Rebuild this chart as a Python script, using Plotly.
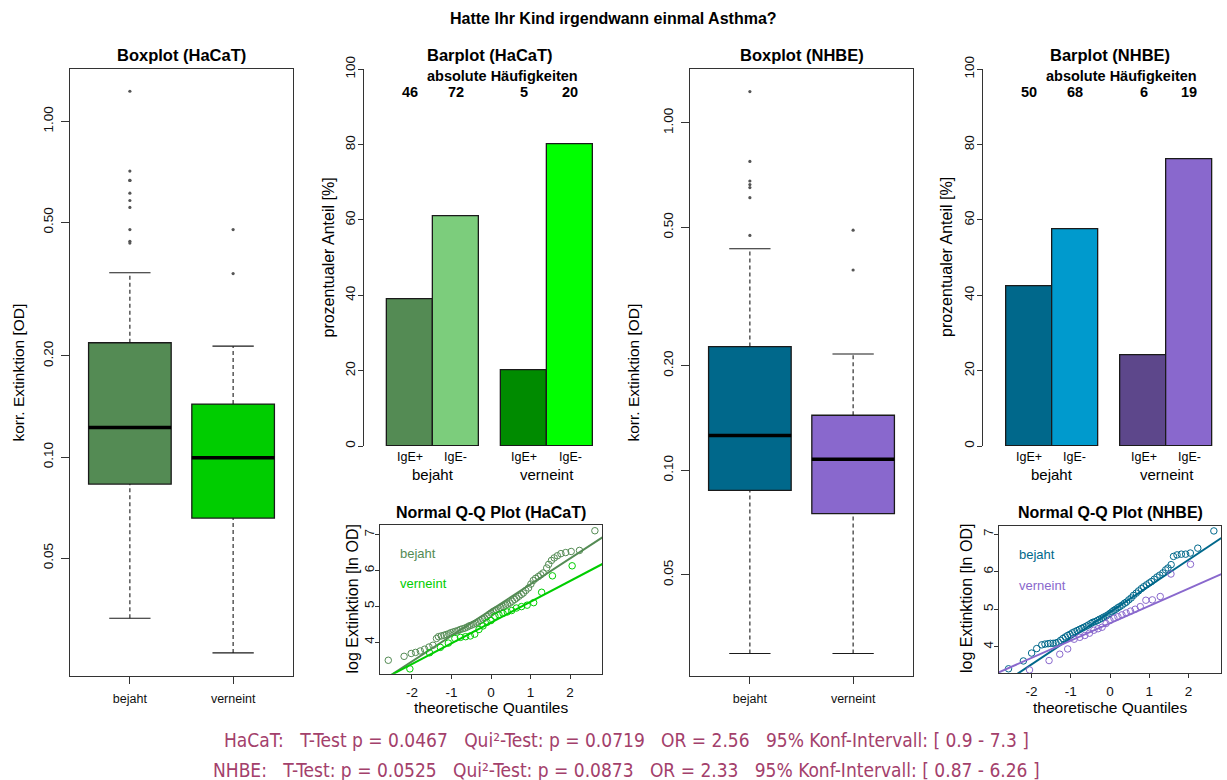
import plotly.graph_objects as go

W, H = 1227, 780
FONT = "Liberation Sans, Arial, sans-serif"
NARROW = "Liberation Sans Narrow, Arial Narrow, DejaVu Sans Condensed, sans-serif"

# ---------------- data ----------------
groups = ["bejaht", "verneint"]
ige_labels = ["IgE+", "IgE-", "IgE+", "IgE-"]

# Boxplot HaCaT (korr. Extinktion [OD])
hacat_q1 = [0.0831, 0.0658]
hacat_median = [0.1224, 0.0996]
hacat_q3 = [0.219, 0.1438]
hacat_whisk_lo = [0.0331, 0.0261]
hacat_whisk_hi = [0.354, 0.214]
hacat_out_bejaht = [1.229, 0.711, 0.667, 0.667, 0.611, 0.581, 0.554, 0.476, 0.439, 0.434]
hacat_out_verneint = [0.476, 0.352]

# Boxplot NHBE
nhbe_q1 = [0.0875, 0.075]
nhbe_median = [0.126, 0.1075]
nhbe_q3 = [0.227, 0.144]
nhbe_whisk_lo = [0.0297, 0.0297]
nhbe_whisk_hi = [0.434, 0.216]
nhbe_out_bejaht = [1.23, 0.774, 0.680, 0.664, 0.651, 0.609, 0.474]
nhbe_out_verneint = [0.491, 0.377]

# Barplots (prozentualer Anteil [%]) and absolute counts
hacat_counts = [46, 72, 5, 20]
hacat_pct = [39.0, 61.0, 20.0, 80.0]
nhbe_counts = [50, 68, 6, 19]
nhbe_pct = [42.4, 57.6, 24.0, 76.0]

# Q-Q plots (theoretical quantile, log extinction [ln OD])
hacat_bej_qx = [-2.60, -2.20, -2.02, -1.91, -1.79, -1.68, -1.57, -1.47, -1.38, -1.33, -1.26, -1.19,
                -1.13, -1.07, -1.02, -0.96, -0.90, -0.84, -0.78, -0.72, -0.66, -0.60, -0.55, -0.50,
                -0.44, -0.38, -0.33, -0.27, -0.21, -0.16, -0.10, -0.05, 0.00, 0.05, 0.10, 0.14,
                0.20, 0.25, 0.31, 0.37, 0.42, 0.48, 0.54, 0.60, 0.65, 0.71, 0.77, 0.82, 0.88,
                0.95, 1.01, 1.07, 1.13, 1.20, 1.26, 1.32, 1.41, 1.46, 1.53, 1.60, 1.68, 1.77,
                1.89, 2.03, 2.24, 2.63]
hacat_bej_qy = [3.49, 3.60, 3.68, 3.71, 3.75, 3.80, 3.86, 3.91, 4.10, 4.15, 4.17, 4.19,
                4.21, 4.23, 4.26, 4.28, 4.30, 4.32, 4.35, 4.37, 4.39, 4.42, 4.45, 4.47,
                4.50, 4.53, 4.56, 4.60, 4.64, 4.67, 4.72, 4.77, 4.81, 4.85, 4.88, 4.90,
                4.93, 4.96, 4.99, 5.03, 5.06, 5.09, 5.14, 5.19, 5.23, 5.28, 5.33, 5.37, 5.44,
                5.51, 5.62, 5.72, 5.78, 5.83, 5.88, 5.93, 6.07, 6.17, 6.28, 6.35, 6.41, 6.47,
                6.50, 6.53, 6.56, 7.11]
hacat_ver_qx = [-2.054, -1.555, -1.282, -1.080, -0.915, -0.772, -0.643, -0.524, -0.412, -0.305,
                -0.202, -0.100, 0.000, 0.100, 0.202, 0.305, 0.412, 0.524, 0.643, 0.772, 0.915,
                1.080, 1.282, 1.555, 2.054]
hacat_ver_qy = [3.25, 3.70, 3.85, 3.97, 4.10, 4.13, 4.15, 4.17, 4.22, 4.35, 4.45, 4.55, 4.60,
                4.72, 4.76, 4.80, 4.84, 4.88, 4.95, 4.99, 5.03, 5.10, 5.39, 5.85, 6.13]
hacat_line_bej = [4.896, 0.719]   # intercept, slope of qqline
hacat_line_ver = [4.545, 0.580]

nhbe_bej_qx = [-2.59, -2.21, -2.00, -1.87, -1.74, -1.66, -1.58, -1.52, -1.45, -1.38, -1.32, -1.26,
               -1.20, -1.14, -1.08, -1.02, -0.96, -0.90, -0.84, -0.78, -0.72, -0.66, -0.60, -0.55,
               -0.49, -0.44, -0.38, -0.32, -0.27, -0.21, -0.16, -0.10, -0.05, 0.00, 0.05, 0.10,
               0.15, 0.20, 0.25, 0.31, 0.37, 0.42, 0.48, 0.54, 0.60, 0.67, 0.73, 0.80, 0.86,
               0.93, 1.00, 1.06, 1.13, 1.20, 1.27, 1.35, 1.42, 1.48, 1.56, 1.62, 1.71, 1.82,
               1.93, 2.05, 2.24, 2.65]
nhbe_bej_qy = [3.41, 3.62, 3.83, 3.95, 4.05, 4.07, 4.08, 4.09, 4.09, 4.10, 4.12, 4.17,
               4.22, 4.26, 4.30, 4.33, 4.37, 4.40, 4.43, 4.46, 4.49, 4.52, 4.55, 4.58,
               4.62, 4.65, 4.67, 4.70, 4.73, 4.76, 4.79, 4.82, 4.85, 4.89, 4.93, 4.97,
               5.00, 5.04, 5.07, 5.11, 5.16, 5.19, 5.25, 5.30, 5.37, 5.43, 5.49, 5.55, 5.60,
               5.65, 5.70, 5.74, 5.80, 5.86, 5.91, 5.97, 6.05, 6.10, 6.19, 6.41, 6.45, 6.47,
               6.47, 6.50, 6.63, 7.09]
nhbe_ver_qx = hacat_ver_qx
nhbe_ver_qy = [3.38, 3.63, 3.80, 3.94, 4.20, 4.25, 4.30, 4.36, 4.44, 4.48, 4.52, 4.62, 4.70,
               4.76, 4.80, 4.85, 4.90, 4.95, 5.00, 5.07, 5.24, 5.25, 5.34, 5.94, 6.20]
nhbe_line_bej = [4.923, 0.697]
nhbe_line_ver = [4.626, 0.462]

stats_hacat = "HaCaT:   T-Test p = 0.0467   Qui²-Test: p = 0.0719   OR = 2.56   95% Konf-Intervall: [ 0.9 - 7.3 ]"
stats_nhbe = "NHBE:   T-Test: p = 0.0525   Qui²-Test: p = 0.0873   OR = 2.33   95% Konf-Intervall: [ 0.87 - 6.26 ]"

# ---------------- colours ----------------
C_HACAT_BOX = ["#548B54", "#00CD00"]
C_HACAT_BAR = ["#548B54", "#7CCD7C", "#008B00", "#00FF00"]
C_HACAT_QQ = ["#548B54", "#00CD00"]
C_NHBE_BOX = ["#00688B", "#8968CD"]
C_NHBE_BAR = ["#00688B", "#009ACD", "#5D478B", "#8968CD"]
C_NHBE_QQ = ["#00688B", "#8968CD"]
EDGE = "#1a1a1a"
STAT_COL = "#A3406B"


def px(x):
    return x / W


def py(y):
    return 1 - y / H


fig = go.Figure()
ann = []


def A(text, x, y, size, bold=False, color="#000", angle=0, xref="paper", yref="paper",
      xanchor="center", family=FONT):
    ann.append(dict(text=f"<b>{text}</b>" if bold else text, x=x, y=y, xref=xref, yref=yref,
                    showarrow=False, textangle=angle, xanchor=xanchor, yanchor="middle",
                    font=dict(size=size, color=color, family=family)))


def add_boxplot(xa, ya, q1, med, q3, lo, hi, outs, colors):
    for i in range(2):
        pos = i + 1
        fig.add_trace(go.Box(x=[pos], q1=[q1[i]], median=[med[i]], q3=[q3[i]],
                             lowerfence=[q1[i]], upperfence=[q3[i]], width=0.8,
                             fillcolor=colors[i], line=dict(color=EDGE, width=1.3),
                             whiskerwidth=0, boxpoints=False, hoverinfo="skip",
                             xaxis=xa, yaxis=ya, showlegend=False))
        fig.add_trace(go.Scatter(x=[pos, pos, None, pos, pos], y=[q3[i], hi[i], None, lo[i], q1[i]],
                                 mode="lines", line=dict(color=EDGE, width=1.1, dash="4px,3px"),
                                 xaxis=xa, yaxis=ya, showlegend=False, hoverinfo="skip"))
        fig.add_trace(go.Scatter(x=[pos - 0.2, pos + 0.2, None, pos - 0.2, pos + 0.2],
                                 y=[hi[i], hi[i], None, lo[i], lo[i]],
                                 mode="lines", line=dict(color=EDGE, width=1.1),
                                 xaxis=xa, yaxis=ya, showlegend=False, hoverinfo="skip"))
        fig.add_trace(go.Scatter(x=[pos - 0.4, pos + 0.4], y=[med[i], med[i]], mode="lines",
                                 line=dict(color="black", width=3.5),
                                 xaxis=xa, yaxis=ya, showlegend=False, hoverinfo="skip"))
        fig.add_trace(go.Scatter(x=[pos] * len(outs[i]), y=outs[i], mode="markers",
                                 marker=dict(symbol="circle", size=3.2, color="#555"),
                                 xaxis=xa, yaxis=ya, showlegend=False, hoverinfo="skip"))


BAR_POS = [1, 2, 3.5, 4.5]


def add_barplot(xa, ya, pct, counts, colors):
    fig.add_trace(go.Bar(x=BAR_POS, y=pct, width=[1] * 4,
                         marker=dict(color=colors, line=dict(color=EDGE, width=1.3)),
                         xaxis=xa, yaxis=ya, showlegend=False, hoverinfo="skip"))
    for p, c, lab in zip(BAR_POS, counts, ige_labels):
        A(str(c), p, py(91.5), 14.5, bold=True, xref=xa)
        A(lab, p, py(457), 12.5, xref=xa)
    A(groups[0], (BAR_POS[0] + BAR_POS[1]) / 2, py(475), 15, xref=xa)
    A(groups[1], (BAR_POS[2] + BAR_POS[3]) / 2, py(475), 15, xref=xa)


def add_qq(xa, ya, xr, bx, by, vx, vy, lb, lv, colors):
    for (qx, qy, ln, col) in [(bx, by, lb, colors[0]), (vx, vy, lv, colors[1])]:
        fig.add_trace(go.Scatter(x=qx, y=qy, mode="markers",
                                 marker=dict(symbol="circle-open", size=6.5, color=col,
                                             line=dict(width=1, color=col)),
                                 xaxis=xa, yaxis=ya, showlegend=False, hoverinfo="skip"))
        fig.add_trace(go.Scatter(x=[xr[0], xr[1]], y=[ln[0] + ln[1] * xr[0], ln[0] + ln[1] * xr[1]],
                                 mode="lines", line=dict(color=col, width=2),
                                 xaxis=xa, yaxis=ya, showlegend=False, hoverinfo="skip"))


# ---- panels ----
add_boxplot("x", "y", hacat_q1, hacat_median, hacat_q3, hacat_whisk_lo, hacat_whisk_hi,
            [hacat_out_bejaht, hacat_out_verneint], C_HACAT_BOX)
add_barplot("x2", "y2", hacat_pct, hacat_counts, C_HACAT_BAR)
QQ1_XR = [-2.82, 2.82]
add_qq("x3", "y3", QQ1_XR, hacat_bej_qx, hacat_bej_qy, hacat_ver_qx, hacat_ver_qy,
       hacat_line_bej, hacat_line_ver, C_HACAT_QQ)
add_boxplot("x4", "y4", nhbe_q1, nhbe_median, nhbe_q3, nhbe_whisk_lo, nhbe_whisk_hi,
            [nhbe_out_bejaht, nhbe_out_verneint], C_NHBE_BOX)
add_barplot("x5", "y5", nhbe_pct, nhbe_counts, C_NHBE_BAR)
QQ2_XR = [-2.84, 2.84]
add_qq("x6", "y6", QQ2_XR, nhbe_bej_qx, nhbe_bej_qy, nhbe_ver_qx, nhbe_ver_qy,
       nhbe_line_bej, nhbe_line_ver, C_NHBE_QQ)

# ---- texts ----
A("Hatte Ihr Kind irgendwann einmal Asthma?", px(613), py(18), 16, bold=True)
A("Boxplot (HaCaT)", px(181.5), py(55), 16.5, bold=True)
A("Barplot (HaCaT)", px(490), py(55), 16.5, bold=True)
A("absolute Häufigkeiten", px(502), py(76), 14.5, bold=True)
A("Normal Q-Q Plot (HaCaT)", px(491), py(512), 16, bold=True)
A("Boxplot (NHBE)", px(801.5), py(55), 16.5, bold=True)
A("Barplot (NHBE)", px(1110), py(55), 16.5, bold=True)
A("absolute Häufigkeiten", px(1121.5), py(76), 14.5, bold=True)
A("Normal Q-Q Plot (NHBE)", px(1110), py(512), 16, bold=True)

A("korr. Extinktion [OD]", px(18), py(372.5), 15.5, angle=-90)
A("prozentualer Anteil [%]", px(328), py(257.5), 16, angle=-90)
A("log Extinktion [ln OD]", px(351.5), py(599), 16, angle=-90)
A("theoretische Quantiles", px(491), py(707), 15.5)
A("korr. Extinktion [OD]", px(633), py(372.5), 15.5, angle=-90)
A("prozentualer Anteil [%]", px(946.5), py(257.5), 16, angle=-90)
A("log Extinktion [ln OD]", px(966), py(599), 16, angle=-90)
A("theoretische Quantiles", px(1110), py(707), 15.5)

A("bejaht", -2.36, 6.48, 13, color=C_HACAT_QQ[0], xref="x3", yref="y3", xanchor="left")
A("verneint", -2.36, 5.64, 13, color=C_HACAT_QQ[1], xref="x3", yref="y3", xanchor="left")
A("bejaht", -2.38, 6.45, 13, color=C_NHBE_QQ[0], xref="x6", yref="y6", xanchor="left")
A("verneint", -2.38, 5.63, 13, color=C_NHBE_QQ[1], xref="x6", yref="y6", xanchor="left")

A(stats_hacat.replace(" ", "\u00a0"), px(626), py(740), 19, color=STAT_COL, family=NARROW)
A(stats_nhbe.replace(" ", "\u00a0"), px(626), py(770), 19, color=STAT_COL, family=NARROW)

# ---- axes ----
frame = dict(showline=True, linecolor="#333", linewidth=1, mirror=True, showgrid=False,
             zeroline=False, ticks="outside", tickcolor="#333", tickwidth=1, automargin=False)

box_x = dict(frame, range=[0.42, 2.58], tickvals=[1, 2], ticktext=groups, ticklen=7,
             tickfont=dict(size=12.5, color="#111"), ticklabelstandoff=4)
box_y_ticks = [0.05, 0.1, 0.2, 0.5, 1.0]
box_y = dict(frame, type="log", tickvals=box_y_ticks,
             ticktext=[f"{v:.2f}" for v in box_y_ticks], tickangle=-90, ticklen=8,
             tickfont=dict(size=13.5, color="#111"), ticklabelstandoff=3)

bar_x = dict(showline=False, showticklabels=False, showgrid=False, zeroline=False, ticks="",
             automargin=False)
bar_y = dict(showline=True, linecolor="#333", linewidth=1, showgrid=False, zeroline=False,
             ticks="outside", ticklen=5, tickcolor="#333", range=[0, 100],
             tickvals=[0, 20, 40, 60, 80, 100], tickangle=-90,
             tickfont=dict(size=13.5, color="#111"), ticklabelstandoff=-2, automargin=False)

qq_x = dict(frame, tickvals=[-2, -1, 0, 1, 2], ticktext=["-2", "-1", "0", "1", "2"], ticklen=4,
            tickfont=dict(size=13.5, color="#111"), ticklabelstandoff=2)
qq_y = dict(frame, tickvals=[4, 5, 6, 7], ticktext=["4", "5", "6", "7"], tickangle=-90,
            ticklen=4, tickfont=dict(size=13.5, color="#111"), ticklabelstandoff=-5)

fig.update_layout(
    width=W, height=H, margin=dict(l=0, r=0, t=0, b=0, pad=0, autoexpand=False),
    paper_bgcolor="white", plot_bgcolor="white",
    font=dict(family=FONT, color="#111"), showlegend=False, bargap=0,
    xaxis=dict(box_x, domain=[px(70), px(293)], anchor="y"),
    yaxis=dict(box_y, domain=[py(675.6), py(69.3)], range=[-1.651, 0.155], anchor="x"),
    xaxis2=dict(bar_x, domain=[px(364), px(616)], range=[0, 5.5], anchor="y2"),
    yaxis2=dict(bar_y, domain=[py(446), py(69.3)], anchor="x2"),
    xaxis3=dict(qq_x, domain=[px(379.6), px(602.4)], range=QQ1_XR, anchor="y3"),
    yaxis3=dict(qq_y, domain=[py(673.7), py(525)], range=[3.115, 7.27], anchor="x3"),
    xaxis4=dict(box_x, domain=[px(690), px(913)], anchor="y4"),
    yaxis4=dict(box_y, domain=[py(675.6), py(69.3)], range=[-1.591, 0.154], anchor="x4"),
    xaxis5=dict(bar_x, domain=[px(983.3), 1.0], range=[0, (W - 983.3) / 45.8], anchor="y5"),
    yaxis5=dict(bar_y, domain=[py(446), py(69.3)], anchor="x5"),
    xaxis6=dict(qq_x, domain=[px(998.7), px(1221.3)], range=QQ2_XR, anchor="y6"),
    yaxis6=dict(qq_y, domain=[py(673), py(525.5)], range=[3.298, 7.235], anchor="x6"),
    annotations=ann,
)

fig.write_html("out.html")
